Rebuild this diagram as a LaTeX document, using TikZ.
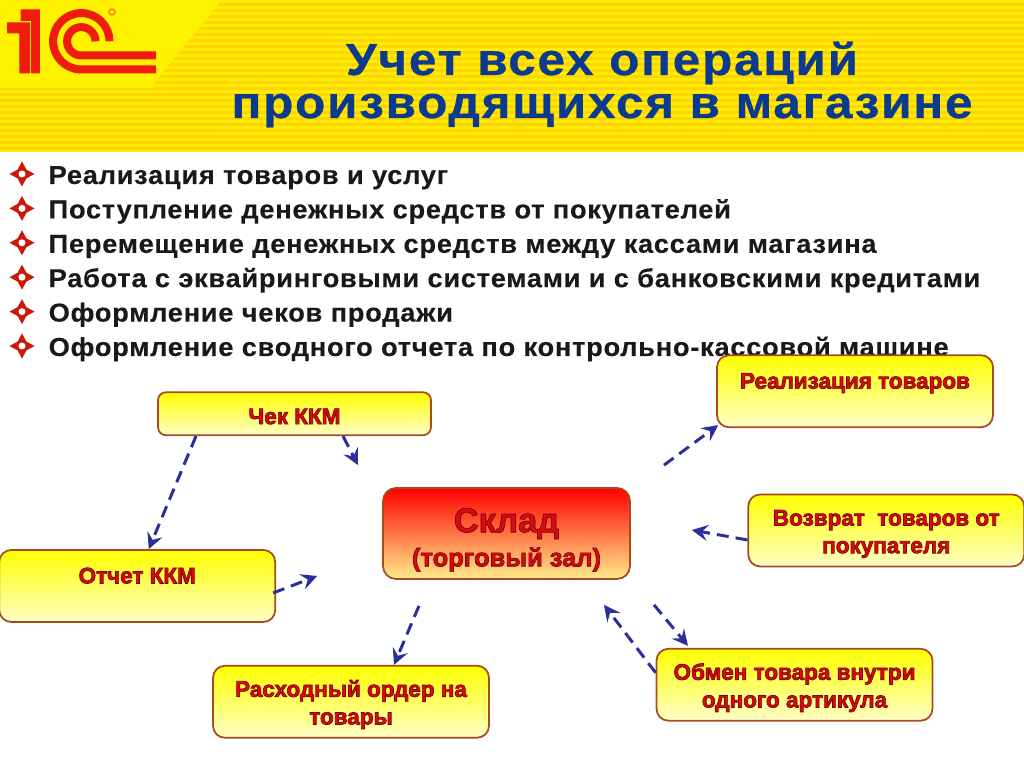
\documentclass[tikz,border=0pt]{standalone}
\usepackage{fontspec}
\setmainfont{Liberation Sans}
\usepackage{tikz}
\usetikzlibrary{positioning}
\usetikzlibrary{shapes.geometric,arrows.meta}
\definecolor{logored}{HTML}{EE1C0C}
\definecolor{titleblue}{HTML}{0B3A8E}
\definecolor{boxred}{HTML}{D80A14}
\definecolor{boxline}{HTML}{A84A20}
\definecolor{arrowblue}{HTML}{2B2F9C}
\definecolor{stripelight}{HTML}{FFEC00}
\definecolor{stripedark}{HTML}{FFD500}
\newcommand{\outlined}[1]{\special{pdf:code 0.5 0 0 RG 2 Tr 0.2 w}#1\special{pdf:code 0 Tr}}
\tikzstyle{block} = [rectangle, draw=boxline, line width=0.5pt, top color=yellow, middle color=yellow!85!white, bottom color=yellow!22!white,
    minimum width=2.76cm, minimum height=0.72cm, text centered, align=center, rounded corners=0.12cm, inner sep=0pt, text=boxred,
    font=\fontsize{6.4}{7.85}\selectfont\bfseries]
\tikzstyle{twoline} = [block, execute at begin node={\rule{0pt}{0.50cm}}]
\tikzstyle{store} = [rectangle, draw=boxline, line width=0.5pt, top color=red, middle color={rgb,255:red,255;green,138;blue,60}, bottom color={rgb,255:red,255;green,236;blue,140},
    minimum width=2.47cm, minimum height=0.91cm, align=center, rounded corners=0.13cm, inner sep=0pt, text=boxred,
    execute at begin node={\rule{0pt}{0.71cm}}]
\tikzstyle{headline} = [text=titleblue, text height=0.32cm, text depth=0.1cm, inner sep=0pt,
    font=\fontsize{12.8}{14}\selectfont\bfseries\addfontfeature{LetterSpace=3.9,FakeStretch=1.1,FakeBold=0.6}]
\tikzstyle{bullet} = [star, star points=4, star point ratio=2, minimum size=0.25cm, inner sep=0pt, fill=logored!85!black,
    path picture={\fill[white] (path picture bounding box.center) circle (0.035);}]
\tikzstyle{listitem} = [anchor=west, inner sep=0pt, text=black!90, text height=0.25cm, text depth=0.05cm,
    font=\fontsize{7.4}{8}\selectfont\bfseries\addfontfeature{LetterSpace=2.65,FakeStretch=1.05,FakeBold=0.15}]
\tikzstyle{logostroke} = [draw=logored, line width=0.08cm]
\tikzstyle{arrow} = [draw=arrowblue, line width=0.85pt, dash pattern=on 0.12cm off 0.07cm, -{Stealth[length=0.16cm,width=0.16cm,inset=0.06cm]}]

\begin{document}
\begin{tikzpicture}[node distance = 0.344cm]
\useasboundingbox (0,0) rectangle (10.24,7.68);
% header
\fill [stripelight] (0,6.16) rectangle (10.24,7.68);
\foreach \y in {6.19,6.25,...,7.68}
    \draw [color=stripedark, line width=0.03cm] (0,\y) -- (10.24,\y);
\fill [yellow] (0,7.68) -- (2.22,7.68) -- (1.50,6.80) -- (0,6.80) -- cycle;
% logo
\fill [logored] (0.07,7.455) -- (0.30,7.455) -- (0.30,6.947) -- (0.193,6.947) -- (0.193,7.347) -- (0.07,7.347) -- cycle;
\fill [logored] (0.207,7.587) -- (0.40,7.587) -- (0.40,6.947) -- (0.312,6.947) -- (0.312,7.47) -- (0.207,7.47) -- cycle;
\draw [logostroke] (1.095,7.267) arc (0:270:0.282) -- (1.56,6.985);
\draw [logostroke] (0.955,7.267) arc (0:270:0.142) -- (1.56,7.125);
\draw [orange, line width=0.4pt] (1.12,7.56) circle (0.03);

\node (title1) [headline] at (6.02,7.04) {Учет всех операций};
\node (title2) [headline, below of=title1, yshift=-0.086cm] {производящихся в магазине};

\node (b1) [bullet] at (0.22,5.94) {};
\node (b2) [bullet, below of=b1] {};
\node (b3) [bullet, below of=b2] {};
\node (b4) [bullet, below of=b3] {};
\node (b5) [bullet, below of=b4] {};
\node (b6) [bullet, below of=b5] {};
\node (item1) [listitem, right=0.12cm of b1] {Реализация товаров и услуг};
\node (item2) [listitem, right=0.12cm of b2] {Поступление денежных средств от покупателей};
\node (item3) [listitem, right=0.12cm of b3] {Перемещение денежных средств между кассами магазина};
\node (item4) [listitem, right=0.12cm of b4] {Работа с эквайринговыми системами и с банковскими кредитами};
\node (item5) [listitem, right=0.12cm of b5] {Оформление чеков продажи};
\node (item6) [listitem, right=0.12cm of b6] {Оформление сводного отчета по контрольно-кассовой машине};

\node (sklad) [store] at (5.065,2.345) {\fontsize{9.8}{11}\selectfont\bfseries\outlined{Склад}\\[-0.08cm]\fontsize{7.25}{8}\selectfont\bfseries\outlined{(торговый зал)}};
\node (chek) [block, minimum width=2.73cm, minimum height=0.43cm, rounded corners=0.08cm, execute at begin node={\rule{0pt}{0.21cm}}, above=0.51cm of sklad, xshift=-2.12cm] {\outlined{Чек ККМ}};
\node (otchet) [twoline, left=1.06cm of sklad, yshift=-0.525cm] {\outlined{Отчет ККМ}\\~};
\node (rashod) [twoline, below=0.85cm of sklad, xshift=-1.555cm] {\outlined{Расходный ордер на}\\\outlined{товары}};
\node (realiz) [twoline, above=0.59cm of sklad, xshift=3.485cm] {\outlined{Реализация товаров}\\~};
\node (vozvrat) [twoline, right=1.165cm of sklad, yshift=0.03cm] {\outlined{Возврат~ товаров от}\\\outlined{покупателя}};
\node (obmen) [twoline, below=0.68cm of sklad, xshift=2.88cm] {\outlined{Обмен товара внутри}\\\outlined{одного артикула}};

\node[coordinate] (fr1) at ([xshift=-1.485cm,yshift=0.22cm]sklad.north) {};
\node[coordinate] (fr2) at ([xshift=-0.65cm,yshift=-0.425cm]sklad.west) {};
\node[coordinate] (fr3) at ([xshift=-0.875cm,yshift=-0.26cm]sklad.south) {};
\node[coordinate] (fr4) at ([xshift=1.575cm,yshift=0.22cm]sklad.north) {};
\node[coordinate] (fr5) at ([xshift=0.61cm,yshift=0.035cm]sklad.east) {};
\node[coordinate] (fr6) at ([xshift=1.475cm,yshift=-0.25cm]sklad.south) {};
\node[coordinate] (fr7) at ([xshift=0.975cm,yshift=-0.25cm]sklad.south) {};

\draw [arrow] ([xshift=-0.985cm]chek.south) -- ([xshift=0.115cm]otchet.north);
\draw [arrow] ([xshift=0.485cm]chek.south) -- (fr1);
\draw [arrow] ([yshift=-0.07cm,xshift=-0.03cm]otchet.east) -- (fr2);
\draw [arrow] (fr3) -- ([xshift=0.43cm]rashod.north);
\draw [arrow] (fr4) -- ([xshift=0.02cm,yshift=0.03cm]realiz.south west);
\draw [arrow] ([yshift=-0.095cm]vozvrat.west) -- (fr5);
\draw [arrow] (fr6) -- ([xshift=-1.065cm,yshift=0.02cm]obmen.north);
\draw [arrow] ([yshift=0.12cm]obmen.west) -- (fr7);
\end{tikzpicture}
\end{document}
